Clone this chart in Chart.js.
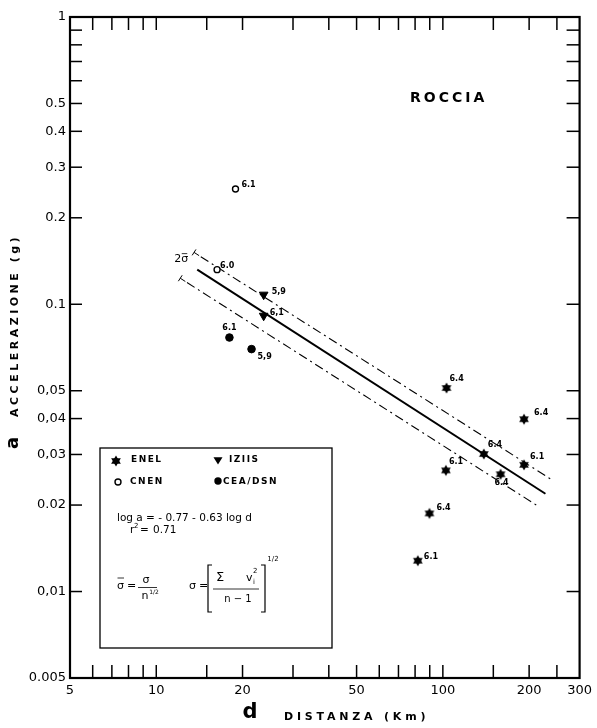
<!DOCTYPE html>
<html><head><meta charset="utf-8">
<script src="https://cdn.jsdelivr.net/npm/chart.js@4.4.1/dist/chart.umd.min.js"></script>
<style>html,body{margin:0;padding:0;background:#fff;}</style>
</head><body>
<canvas id="c" width="597" height="728"></canvas>
<script>
// ---- tick values / labels ----
const xTickValues = [6,7,8,9,10,15,20,30,40,50,60,70,80,90,100,150,200,250];
const xLabelValues = [5,10,20,50,100,200,300];
const xLabelText = ['5','10','20','50','100','200','300'];
const yLabelValues = [0.005,0.01,0.02,0.03,0.04,0.05,0.1,0.2,0.3,0.4,0.5,1];
const yLabelText = ['0.005','0,01','0.02','0,03','0,04','0,05','0.1','0.2','0.3','0.4','0.5','1'];
const yMinorValues = [0.6,0.7,0.8,0.9];

// ---- data (distance km, acceleration g, magnitude) ----
const enelD = [103,192,139,192,159,102.5,89.8,81.8];
const enelA = [0.0511,0.0398,0.0301,0.0276,0.0256,0.0264,0.0187,0.0128];
const enelM = ['6.4','6.4','6.4','6.1','6.4','6.1','6.4','6.1'];
const iziisD = [23.7,23.7];
const iziisA = [0.108,0.0912];
const iziisM = ['5,9','6,1'];
const cnenD = [18.9,16.3];
const cnenA = [0.252,0.132];
const cnenM = ['6.1','6.0'];
const ceaD = [18.0,21.5];
const ceaA = [0.0766,0.0698];
const ceaM = ['6.1','5,9'];

// regression line and 2-sigma band (end points)
const fitD = [13.9,228];
const fitA = [0.132,0.0219];
const upperD = [14.3,243];
const upperA = [0.1464,0.0243];
const lowerD = [12.8,212];
const lowerA = [0.119,0.0200];

// label offsets [dx, dy, align] for magnitude annotations
const enelOff = [[3,-9,'left'],[10,-6,'left'],[4,-9,'left'],[6,-8,'left'],[1,9,'center'],[3,-8,'left'],[7,-6,'left'],[6,-4,'left']];
const iziisOff = [[8,-3,'left'],[6,-3,'left']];
const cnenOff = [[6,-4,'left'],[3,-4,'left']];
const ceaOff = [[0,-10,'center'],[6,8,'left']];

const pts = (xs,ys)=>xs.map((x,i)=>({x:x,y:ys[i]}));

function makeStar(r){
  const s = Math.ceil(r*2+2);
  const c = document.createElement('canvas');
  c.width = s; c.height = s;
  const g = c.getContext('2d');
  g.fillStyle = '#000';
  const cx = s/2, cy = s/2;
  [-Math.PI/2, Math.PI/2].forEach(a0=>{
    g.beginPath();
    for(let i=0;i<3;i++){
      const a = a0 + i*2*Math.PI/3;
      const px = cx + r*Math.cos(a), py = cy + r*Math.sin(a);
      if(i===0) g.moveTo(px,py); else g.lineTo(px,py);
    }
    g.closePath(); g.fill();
  });
  return c;
}
const starImg = makeStar(5.6);

const FONT = "'DejaVu Sans', 'Liberation Sans', sans-serif";

const bgPlugin = {
  id:'bg',
  beforeDraw(chart){
    const ctx = chart.ctx;
    ctx.save(); ctx.fillStyle='#fff'; ctx.fillRect(0,0,chart.width,chart.height); ctx.restore();
  }
};

const framePlugin = {
  id:'frame',
  afterDatasetsDraw(chart){
    const ctx = chart.ctx, a = chart.chartArea;
    const xs = chart.scales.x, ys = chart.scales.y;
    ctx.save();
    ctx.strokeStyle = '#000';
    ctx.lineWidth = 1.5;
    xTickValues.forEach(v=>{
      const px = xs.getPixelForValue(v);
      ctx.beginPath(); ctx.moveTo(px,a.bottom); ctx.lineTo(px,a.bottom-13); ctx.stroke();
      ctx.beginPath(); ctx.moveTo(px,a.top); ctx.lineTo(px,a.top+13); ctx.stroke();
    });
    yLabelValues.concat(yMinorValues).forEach(v=>{
      if(v===1 || v===0.005) return;
      const py = ys.getPixelForValue(v);
      ctx.beginPath(); ctx.moveTo(a.left,py); ctx.lineTo(a.left+12,py); ctx.stroke();
      ctx.beginPath(); ctx.moveTo(a.right,py); ctx.lineTo(a.right-13,py); ctx.stroke();
    });
    ctx.lineWidth = 2.2;
    ctx.strokeRect(a.left,a.top,a.right-a.left,a.bottom-a.top);
    ctx.restore();
  }
};

function drawTri(ctx,x,y,r){
  ctx.beginPath();
  ctx.moveTo(x-r*0.9,y-r*0.55); ctx.lineTo(x+r*0.9,y-r*0.55); ctx.lineTo(x,y+r*0.9);
  ctx.closePath(); ctx.fill();
}

const textPlugin = {
  id:'texts',
  afterDatasetsDraw(chart){
    const ctx = chart.ctx;
    const xs = chart.scales.x, ys = chart.scales.y;
    ctx.save();
    ctx.fillStyle = '#000'; ctx.strokeStyle = '#000';
    // magnitude labels
    ctx.font = "bold 8px " + FONT;
    ctx.textBaseline = 'middle';
    const groups = [[0,enelM,enelOff],[1,iziisM,iziisOff],[2,cnenM,cnenOff],[3,ceaM,ceaOff]];
    groups.forEach(([di,labels,offs])=>{
      const meta = chart.getDatasetMeta(di);
      meta.data.forEach((el,j)=>{
        const o = offs[j];
        ctx.textAlign = o[2];
        ctx.fillText(labels[j], el.x+o[0], el.y+o[1]);
      });
    });

    // band markers and 2 sigma label
    const slope = (ys.getPixelForValue(fitA[1])-ys.getPixelForValue(fitA[0]))/(xs.getPixelForValue(fitD[1])-xs.getPixelForValue(fitD[0]));
    const len = Math.sqrt(1+slope*slope);
    const ux = 1/len, uy = slope/len;      // along the line
    const nx = -uy, ny = ux;               // perpendicular
    function yMark(px,py){
      const ex = px-ux*8, ey = py-uy*8;
      ctx.lineWidth = 1;
      ctx.beginPath(); ctx.moveTo(px-ux*2,py-uy*2); ctx.lineTo(ex,ey); ctx.stroke();
      ctx.beginPath(); ctx.moveTo(ex+nx*3.5,ey+ny*3.5); ctx.lineTo(ex-nx*3.5,ey-ny*3.5); ctx.stroke();
    }
    yMark(xs.getPixelForValue(upperD[0]), ys.getPixelForValue(upperA[0]));
    yMark(xs.getPixelForValue(lowerD[0]), ys.getPixelForValue(lowerA[0]));
    ctx.font = "11px " + FONT;
    ctx.textAlign = 'center';
    const sx = xs.getPixelForValue(fitD[0]) - 16, sy = ys.getPixelForValue(fitA[0]) - 10;
    ctx.fillText('2σ', sx, sy);
    ctx.lineWidth = 0.8;
    ctx.beginPath(); ctx.moveTo(sx+0.5, sy-6); ctx.lineTo(sx+6, sy-6); ctx.stroke();

    // ROCCIA
    ctx.font = "bold 14px " + FONT;
    ctx.textAlign = 'left';
    ctx.letterSpacing = '3px';
    ctx.fillText('ROCCIA', 410, 98);

    // axis titles
    ctx.save();
    ctx.translate(14,445);
    ctx.rotate(-Math.PI/2);
    ctx.letterSpacing = '0px';
    ctx.font = "bold 18px " + FONT;
    ctx.textAlign = 'center';
    ctx.fillText('a', 2, -1);
    ctx.font = "bold 11px " + FONT;
    ctx.letterSpacing = '3.5px';
    ctx.textAlign = 'left';
    ctx.fillText('ACCELERAZIONE (g)', 28, 1);
    ctx.restore();

    ctx.letterSpacing = '0px';
    ctx.font = "bold 21px " + FONT;
    ctx.textAlign = 'center';
    ctx.fillText('d', 250, 713);
    ctx.font = "bold 11px " + FONT;
    ctx.letterSpacing = '3.8px';
    ctx.textAlign = 'left';
    ctx.fillText('DISTANZA (Km)', 284, 717);
    ctx.letterSpacing = '0px';

    // legend / info box
    ctx.lineWidth = 1.3;
    ctx.strokeRect(100,448,232,200);
    ctx.drawImage(starImg, 116-starImg.width/2, 461-starImg.height/2);
    drawTri(ctx,218,460,5);
    ctx.lineWidth = 1.4;
    ctx.beginPath(); ctx.arc(118,482,3,0,Math.PI*2); ctx.stroke();
    ctx.beginPath(); ctx.arc(218,481,3.7,0,Math.PI*2); ctx.fill();
    ctx.font = "bold 9px " + FONT;
    ctx.letterSpacing = '1.5px';
    ctx.textAlign = 'left';
    ctx.fillText('ENEL', 131, 460);
    ctx.fillText('IZIIS', 229, 460);
    ctx.fillText('CNEN', 130, 482);
    ctx.fillText('CEA/DSN', 223, 482);
    ctx.letterSpacing = '0px';

    ctx.font = "10.5px " + FONT;
    ctx.fillText('log a = - 0.77 - 0.63 log d', 117, 518);
    ctx.fillText('r', 130, 530);
    ctx.font = "7px " + FONT;
    ctx.fillText('2', 134, 526);
    ctx.font = "10.5px " + FONT;
    ctx.fillText('=', 140, 530);
    ctx.fillText('0.71', 153, 530);

    // sigma-bar formula
    ctx.font = "11px " + FONT;
    ctx.fillText('σ', 117, 586);
    ctx.lineWidth = 0.8;
    ctx.beginPath(); ctx.moveTo(117.5,578); ctx.lineTo(124,578); ctx.stroke();
    ctx.fillText('=', 127, 586);
    ctx.textAlign = 'center';
    ctx.fillText('σ', 146, 580);
    ctx.beginPath(); ctx.moveTo(138,587.5); ctx.lineTo(157,587.5); ctx.stroke();
    ctx.fillText('n', 145, 596);
    ctx.font = "6px " + FONT;
    ctx.fillText('1/2', 154, 592);

    // sigma formula
    ctx.font = "11px " + FONT;
    ctx.textAlign = 'left';
    ctx.fillText('σ', 189, 586);
    ctx.fillText('=', 199, 586);
    ctx.lineWidth = 1.2;
    ctx.beginPath(); ctx.moveTo(212,565); ctx.lineTo(208,565); ctx.lineTo(208,612); ctx.lineTo(212,612); ctx.stroke();
    ctx.beginPath(); ctx.moveTo(261,565); ctx.lineTo(265,565); ctx.lineTo(265,612); ctx.lineTo(261,612); ctx.stroke();
    ctx.font = "13px " + FONT;
    ctx.fillText('Σ', 216, 578);
    ctx.font = "11px " + FONT;
    ctx.fillText('v', 246, 578);
    ctx.font = "7px " + FONT;
    ctx.fillText('i', 253, 582);
    ctx.fillText('2', 253, 571);
    ctx.lineWidth = 0.8;
    ctx.beginPath(); ctx.moveTo(213,589); ctx.lineTo(259,589); ctx.stroke();
    ctx.font = "10px " + FONT;
    ctx.textAlign = 'center';
    ctx.fillText('n − 1', 238, 599);
    ctx.font = "7px " + FONT;
    ctx.fillText('1/2', 273, 559);
    ctx.restore();
  }
};

new Chart(document.getElementById('c'), {
  type:'scatter',
  data:{
    datasets:[
      {label:'ENEL', data:pts(enelD,enelA), pointStyle:starImg, pointRadius:5, backgroundColor:'#000', borderColor:'#000'},
      {label:'IZIIS', data:pts(iziisD,iziisA), pointStyle:'triangle', rotation:180, pointRadius:5, backgroundColor:'#000', borderColor:'#000', borderWidth:1},
      {label:'CNEN', data:pts(cnenD,cnenA), pointStyle:'circle', pointRadius:3, backgroundColor:'#fff', borderColor:'#000', borderWidth:1.4},
      {label:'CEA/DSN', data:pts(ceaD,ceaA), pointStyle:'circle', pointRadius:3.8, backgroundColor:'#000', borderColor:'#000', borderWidth:1},
      {type:'line', label:'fit', data:pts(fitD,fitA), borderColor:'#000', borderWidth:2, pointRadius:0, fill:false},
      {type:'line', label:'upper', data:pts(upperD,upperA), borderColor:'#000', borderWidth:1.1, borderDash:[9,4,2,4], pointRadius:0, fill:false},
      {type:'line', label:'lower', data:pts(lowerD,lowerA), borderColor:'#000', borderWidth:1.1, borderDash:[9,4,2,4], pointRadius:0, fill:false}
    ]
  },
  options:{
    responsive:false,
    devicePixelRatio:1,
    animation:false,
    layout:{padding:{top:17,right:14,left:0,bottom:0}},
    plugins:{legend:{display:false}, tooltip:{enabled:false}},
    scales:{
      x:{
        type:'logarithmic', min:5, max:300,
        afterBuildTicks:s=>{ s.ticks = xLabelValues.map(v=>({value:v})); },
        ticks:{
          callback:(v,i,t)=>xLabelText[xLabelValues.indexOf(t[i].value)],
          font:{family:"'DejaVu Sans'", size:13}, color:'#000', padding:5, maxRotation:0, autoSkip:false
        },
        grid:{display:false, drawTicks:false},
        border:{display:false},
        afterFit:s=>{ s.height = 50; }
      },
      y:{
        type:'logarithmic', min:0.005, max:1,
        afterBuildTicks:s=>{ s.ticks = yLabelValues.map(v=>({value:v})); },
        ticks:{
          callback:(v,i,t)=>yLabelText[yLabelValues.indexOf(t[i].value)],
          font:{family:"'DejaVu Sans'", size:13}, color:'#000', padding:4, autoSkip:false
        },
        grid:{display:false, drawTicks:false},
        border:{display:false},
        afterFit:s=>{ s.width = 70; }
      }
    }
  },
  plugins:[bgPlugin, framePlugin, textPlugin]
});
</script>
</body></html>
